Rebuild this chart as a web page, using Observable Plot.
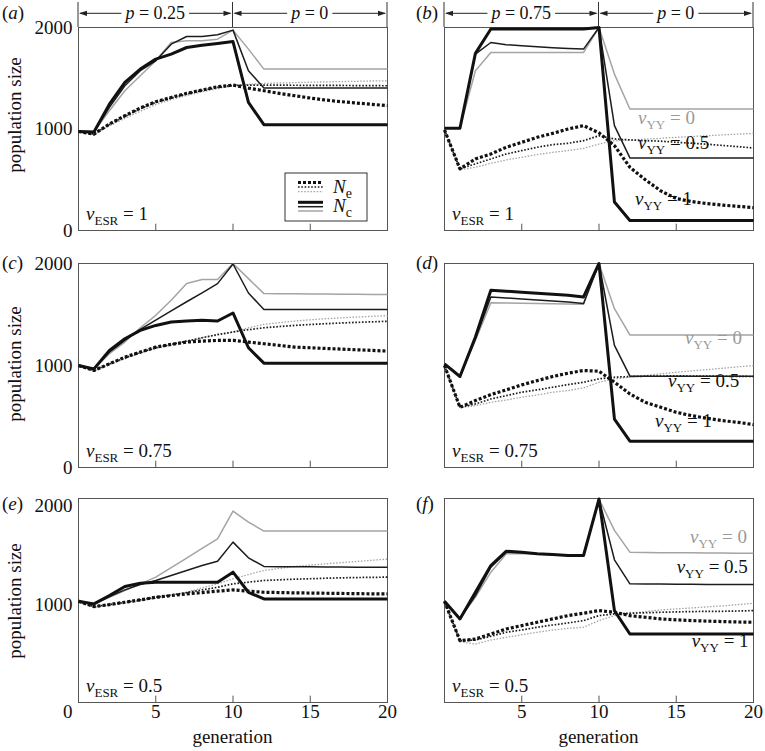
<!DOCTYPE html>
<html><head><meta charset="utf-8">
<script src="https://cdn.jsdelivr.net/npm/d3@7"></script>
<script src="https://cdn.jsdelivr.net/npm/@observablehq/plot@0.6"></script>
<style>
body{margin:0;background:#fff;}
#fig{position:relative;width:765px;height:751px;font-family:'Liberation Serif',serif;}
#fig svg{position:absolute;overflow:visible;background:transparent;}
#fig svg, #fig svg text, #fig svg tspan{font-family:'Liberation Serif',serif !important;white-space:pre;}
</style></head><body><div id="fig"></div>
<script>
const generation = [0,1,2,3,4,5,6,7,8,9,10,11,12,13,14,15,16,17,18,19,20];
const vYYLevels = ["0","0.5","1"];
const vESRLevels = ["1","1","0.75","0.75","0.5","0.5"];
const yTicks = [0,1000,2000];
const xTickLabels = [0,5,10,15,20];

// panel (a)
const a_Nc_v0  = [975,975,1180,1377,1525,1672,1852,1869,1869,1885,1974,1787,1590,1590,1590,1590,1590,1590,1590,1590,1590];
const a_Nc_v05 = [975,970,1213,1426,1574,1672,1836,1911,1911,1928,1974,1574,1403,1403,1403,1403,1403,1403,1403,1403,1403];
const a_Nc_v1  = [975,970,1245,1460,1590,1689,1738,1803,1826,1843,1862,1262,1043,1043,1043,1043,1043,1043,1043,1043,1043];
const a_Ne_v0  = [975,945,1030,1105,1175,1240,1290,1330,1365,1398,1426,1440,1448,1453,1457,1461,1464,1467,1470,1473,1475];
const a_Ne_v05 = [975,950,1045,1125,1200,1262,1305,1345,1380,1410,1430,1432,1432,1432,1431,1430,1430,1429,1428,1427,1426];
const a_Ne_v1  = [975,950,1049,1131,1207,1269,1311,1351,1384,1416,1433,1403,1377,1351,1328,1305,1285,1269,1256,1243,1230];
// panel (b)
const b_Nc_v0  = [1007,1007,1574,1754,1754,1754,1754,1754,1754,1754,2000,1541,1197,1197,1197,1197,1197,1197,1197,1197,1197];
const b_Nc_v05 = [1007,1007,1738,1852,1830,1820,1810,1800,1793,1787,2000,1033,715,715,715,715,715,715,715,715,715];
const b_Nc_v1  = [1007,1007,1745,1985,1985,1985,1985,1985,1985,1985,2000,280,98,98,98,98,98,98,98,98,98];
const b_Ne_v0  = [990,600,623,662,695,721,748,770,787,810,852,885,892,900,908,918,926,934,942,950,957];
const b_Ne_v05 = [990,607,656,705,754,787,820,846,859,885,934,902,892,885,880,869,860,850,838,826,813];
const b_Ne_v1  = [990,607,705,754,820,869,918,957,1000,1033,962,836,623,500,390,315,285,265,250,238,225];
// panel (c)
const c_Nc_v0  = [1000,967,1115,1230,1370,1492,1639,1803,1843,1843,2000,1852,1705,1704,1703,1702,1700,1699,1698,1697,1695];
const c_Nc_v05 = [1000,967,1131,1246,1355,1445,1535,1625,1712,1803,1995,1711,1548,1548,1548,1548,1548,1548,1548,1548,1548];
const c_Nc_v1  = [1000,967,1148,1262,1344,1393,1426,1436,1443,1436,1515,1174,1023,1023,1023,1023,1023,1023,1023,1023,1023];
const c_Ne_v0  = [1000,945,1010,1066,1121,1170,1203,1236,1272,1305,1328,1370,1403,1420,1436,1448,1459,1467,1475,1482,1489];
const c_Ne_v05 = [1000,951,1016,1075,1128,1174,1207,1239,1272,1302,1328,1351,1370,1382,1393,1402,1410,1417,1423,1428,1433];
const c_Ne_v1  = [1000,951,1016,1082,1131,1180,1207,1230,1239,1246,1246,1230,1213,1197,1180,1174,1167,1161,1154,1148,1141];
// panel (d)
const d_Nc_v0  = [1016,892,1246,1615,1612,1610,1608,1606,1603,1600,2000,1557,1300,1300,1300,1300,1300,1300,1300,1300,1300];
const d_Nc_v05 = [1016,892,1262,1672,1662,1652,1642,1632,1622,1607,2000,1197,895,895,895,895,895,895,895,895,895];
const d_Nc_v1  = [1016,892,1279,1738,1728,1718,1708,1698,1688,1672,2000,475,258,258,258,258,258,258,258,258,258];
const d_Ne_v0  = [1000,585,607,639,662,689,711,738,754,780,836,869,885,902,918,934,947,960,973,987,1000];
const d_Ne_v05 = [1000,590,623,672,705,738,761,787,813,836,869,885,892,895,897,898,897,896,895,893,892];
const d_Ne_v1  = [1000,590,656,715,761,810,852,892,925,951,944,836,721,639,590,541,508,482,459,443,420];
// panel (e)
const e_Nc_v0  = [1032,1005,1073,1141,1210,1278,1375,1473,1571,1669,1952,1840,1748,1748,1748,1748,1748,1748,1748,1748,1748];
const e_Nc_v05 = [1032,1005,1080,1148,1203,1244,1295,1346,1397,1441,1635,1475,1387,1385,1384,1383,1382,1381,1380,1380,1380];
const e_Nc_v1  = [1032,1005,1090,1182,1216,1227,1227,1227,1227,1227,1329,1124,1056,1056,1056,1056,1056,1056,1056,1056,1056];
const e_Ne_v0  = [1032,970,995,1015,1039,1063,1090,1124,1169,1210,1261,1305,1346,1367,1387,1401,1414,1426,1438,1450,1462];
const e_Ne_v05 = [1032,978,998,1022,1046,1073,1097,1121,1148,1175,1210,1227,1244,1251,1257,1262,1267,1271,1274,1276,1278];
const e_Ne_v1  = [1032,978,998,1022,1046,1073,1090,1107,1121,1135,1148,1135,1124,1121,1118,1116,1114,1112,1110,1108,1107];
// panel (f)
const f_Nc_v0  = [1032,860,1073,1329,1516,1520,1512,1505,1499,1499,2075,1755,1533,1530,1528,1527,1526,1525,1524,1523,1523];
const f_Nc_v05 = [1032,852,1090,1380,1533,1530,1516,1509,1499,1499,2075,1455,1210,1208,1207,1206,1205,1204,1204,1203,1203];
const f_Nc_v1  = [1032,852,1124,1397,1543,1533,1516,1509,1499,1499,2075,937,698,698,698,698,698,698,698,698,698];
const f_Ne_v0  = [1032,620,596,637,664,692,716,739,756,767,835,886,910,927,944,954,964,975,985,998,1012];
const f_Ne_v05 = [1032,630,637,675,716,739,767,790,811,835,886,903,910,915,920,924,927,929,930,933,937];
const f_Ne_v1  = [1032,630,647,698,750,784,818,852,886,910,937,920,886,869,852,843,835,830,825,821,818];

// top annotations: selection phases
const phaseStart = [0,10];
const phaseEnd = [10,20];
const phaseP_a = ["0.25","0"];
const phaseP_b = ["0.75","0"];

// vYY label anchors (generation, population) for right-hand panels
const b_labX = [12.56,12.56,12.36], b_labY = [1044,795,246];
const d_labX = [15.6,14.5,13.66],   d_labY = [1203,781,389];
const f_labX = [15.92,15.06,16.03], f_labY = [1618,1312,557];

const FONT = "'Liberation Serif',serif";
const style = {
  "0":   {color:"#a4a4a4", nc:1.5, ne:1.3, dash:"1.5,1.6"},
  "0.5": {color:"#1c1c1c", nc:1.5, ne:1.7, dash:"1.6,1.7"},
  "1":   {color:"#111111", nc:3.0, ne:3.2, dash:"3,2"}
};
const L = {
  colLeft:[0,383], colWidth:[392,382], mL:[78,61], mR:[5,12],
  rowTop:[0,250,485], rowHeight:[250,235,266], mT:[27,13,13], mB:[20,18,49],
  letterX:[2,416], letterY:[19,269,510], popLabelY:[115,364,601]
};

const panels = [
  {key:"a", row:0, col:0, yMax:2000, Nc:[a_Nc_v0,a_Nc_v05,a_Nc_v1], Ne:[a_Ne_v0,a_Ne_v05,a_Ne_v1], phase:phaseP_a, legend:true},
  {key:"b", row:0, col:1, yMax:2000, Nc:[b_Nc_v0,b_Nc_v05,b_Nc_v1], Ne:[b_Ne_v0,b_Ne_v05,b_Ne_v1], phase:phaseP_b, labX:b_labX, labY:b_labY},
  {key:"c", row:1, col:0, yMax:2000, Nc:[c_Nc_v0,c_Nc_v05,c_Nc_v1], Ne:[c_Ne_v0,c_Ne_v05,c_Ne_v1]},
  {key:"d", row:1, col:1, yMax:2000, Nc:[d_Nc_v0,d_Nc_v05,d_Nc_v1], Ne:[d_Ne_v0,d_Ne_v05,d_Ne_v1], labX:d_labX, labY:d_labY},
  {key:"e", row:2, col:0, yMax:2080, Nc:[e_Nc_v0,e_Nc_v05,e_Nc_v1], Ne:[e_Ne_v0,e_Ne_v05,e_Ne_v1]},
  {key:"f", row:2, col:1, yMax:2080, Nc:[f_Nc_v0,f_Nc_v05,f_Nc_v1], Ne:[f_Ne_v0,f_Ne_v05,f_Ne_v1], labX:f_labX, labY:f_labY}
];

function rich(g, x, y, parts, opts = {}) {
  const t = g.append("text").attr("x", x).attr("y", y)
    .attr("font-family", FONT).attr("font-size", opts.size || 19)
    .attr("fill", opts.fill || "#111").attr("text-anchor", opts.anchor || "start");
  let shift = 0;
  for (const p of parts) {
    const ts = t.append("tspan").text(p.t);
    if (p.italic) ts.attr("font-style", "italic");
    const target = p.sub ? 5 : 0;
    if (target !== shift) { ts.attr("dy", target - shift); shift = target; }
    if (p.sub) ts.attr("font-size", opts.subSize || 13);
  }
  return t;
}

const fig = document.getElementById("fig");

panels.forEach((p, idx) => {
  const series = (arr) => generation.map((g, i) => ({g, n: arr[i]}));
  const marks = [
    Plot.frame({stroke:"#555", strokeWidth:1}),
    Plot.ruleX([5,10,15], {x: d => d, y1: 0, y2: p.yMax * 0.031, stroke:"#555"})
  ];
  vYYLevels.forEach((v, i) => {
    const s = style[v];
    marks.push(Plot.line(series(p.Ne[i]), {x:"g", y:"n", stroke:s.color, strokeWidth:s.ne, strokeDasharray:s.dash, strokeLinecap:"butt", strokeLinejoin:"round"}));
  });
  vYYLevels.forEach((v, i) => {
    const s = style[v];
    marks.push(Plot.line(series(p.Nc[i]), {x:"g", y:"n", stroke:s.color, strokeWidth:s.nc, strokeLinecap:"butt", strokeLinejoin:"round"}));
  });
  const hasY = p.col === 0, hasX = p.row === 2;
  if (hasY) marks.push(Plot.axisY({ticks: p.row === 2 ? yTicks.filter(d => d > 0) : yTicks, tickSize:0, tickPadding:6, tickFormat: d => String(d), label:null, fontSize:19}));
  if (hasX) {
    marks.push(Plot.axisX({ticks: xTickLabels.filter(d => d > 0), tickSize:0, tickPadding:2, tickFormat: d => String(d), label:null, fontSize:19}));
    if (p.col === 0) marks.push(Plot.text(xTickLabels.filter(d => d === 0), {x: d => d, text: d => String(d), frameAnchor:"bottom", lineAnchor:"top", textAnchor:"end", dx:-6, dy:2, fontSize:19}));
  }
  const W = L.colWidth[p.col], H = L.rowHeight[p.row];
  const svgEl = Plot.plot({
    width: W, height: H,
    marginLeft: L.mL[p.col], marginRight: L.mR[p.col], marginTop: L.mT[p.row], marginBottom: L.mB[p.row],
    x: {domain:[0,20], ...(hasX ? {} : {axis:null})},
    y: {domain:[0,p.yMax], ...(hasY ? {} : {axis:null})},
    style: {fontFamily: FONT, fontSize:"19px", background:"transparent", color:"#111", overflow:"visible"},
    marks
  });
  svgEl.style.left = L.colLeft[p.col] + "px";
  svgEl.style.top = L.rowTop[p.row] + "px";
  fig.appendChild(svgEl);

  const sx = svgEl.scale("x"), sy = svgEl.scale("y");
  const X = v => sx.apply(v), Y = v => sy.apply(v);
  const svg = d3.select(svgEl);
  const fl = X(0), fr = X(20), ft = Y(p.yMax), fb = Y(0);

  rich(svg, L.letterX[p.col] + (p.col === 1 ? -L.colLeft[1] : 0), L.letterY[p.row] - L.rowTop[p.row],
       [{t:"("},{t:p.key, italic:true},{t:")"}]);

  rich(svg, fl + 8, fb - 10, [{t:"v", italic:true},{t:"ESR", sub:true},{t:" = " + vESRLevels[idx]}]);

  if (hasY) {
    svg.append("text").attr("transform", `translate(21,${L.popLabelY[p.row] - L.rowTop[p.row]}) rotate(-90)`)
      .attr("text-anchor","middle").attr("font-family",FONT).attr("font-size",19).attr("fill","#111").text("population size");
  }
  if (hasX) {
    svg.append("text").attr("x", (fl + fr) / 2).attr("y", 743 - L.rowTop[p.row])
      .attr("text-anchor","middle").attr("font-family",FONT).attr("font-size",19).attr("fill","#111").text("generation");
  }

  if (p.labX) {
    vYYLevels.forEach((v, i) => {
      rich(svg, X(p.labX[i]), Y(p.labY[i]), [{t:"v", italic:true},{t:"YY", sub:true},{t:" = " + v}],
           {fill: v === "0" ? "#9a9a9a" : "#111"});
    });
  }

  if (p.phase) {
    const ay = 13.3;
    [0,10,20].forEach(g => {
      svg.append("line").attr("x1", X(g)).attr("x2", X(g)).attr("y1", 2).attr("y2", ft).attr("stroke","#333").attr("stroke-width",1);
    });
    p.phase.forEach((pv, i) => {
      const x1 = X(phaseStart[i]), x2 = X(phaseEnd[i]), cx = (x1 + x2) / 2;
      const t = rich(svg, cx, ay + 5.5, [{t:"p", italic:true},{t:" = " + pv}], {anchor:"middle", size:18});
      const w = t.node().getComputedTextLength();
      const l1 = cx - w / 2 - 4, l2 = cx + w / 2 + 4;
      svg.append("line").attr("x1", x1 + 2).attr("x2", l1).attr("y1", ay).attr("y2", ay).attr("stroke","#222");
      svg.append("line").attr("x1", l2).attr("x2", x2 - 2).attr("y1", ay).attr("y2", ay).attr("stroke","#222");
      svg.append("path").attr("d", `M${x1+1},${ay}L${x1+9},${ay-2.6}L${x1+9},${ay+2.6}Z`).attr("fill","#222");
      svg.append("path").attr("d", `M${x2-1},${ay}L${x2-9},${ay-2.6}L${x2-9},${ay+2.6}Z`).attr("fill","#222");
    });
  }

  if (p.legend) {
    const bx0 = fr - 102, bx1 = fr - 20, by0 = fb - 57, by1 = fb - 9;
    svg.append("rect").attr("x", bx0).attr("y", by0).attr("width", bx1 - bx0).attr("height", by1 - by0)
      .attr("fill","#fff").attr("stroke","#333").attr("stroke-width",1);
    const order = ["1","0.5","0"];
    const neY = [fb - 47.5, fb - 43, fb - 38.3];
    const ncY = [fb - 27.7, fb - 23.3, fb - 19];
    order.forEach((v, i) => {
      const s = style[v];
      svg.append("line").attr("x1", fr - 89).attr("x2", fr - 64).attr("y1", neY[i]).attr("y2", neY[i])
        .attr("stroke", s.color).attr("stroke-width", s.ne).attr("stroke-dasharray", s.dash);
      svg.append("line").attr("x1", fr - 89).attr("x2", fr - 64).attr("y1", ncY[i]).attr("y2", ncY[i])
        .attr("stroke", s.color).attr("stroke-width", s.nc);
    });
    rich(svg, fr - 54, fb - 37, [{t:"N", italic:true},{t:"e", sub:true}], {subSize:14});
    rich(svg, fr - 54, fb - 18, [{t:"N", italic:true},{t:"c", sub:true}], {subSize:14});
  }
});
</script>
</body></html>
